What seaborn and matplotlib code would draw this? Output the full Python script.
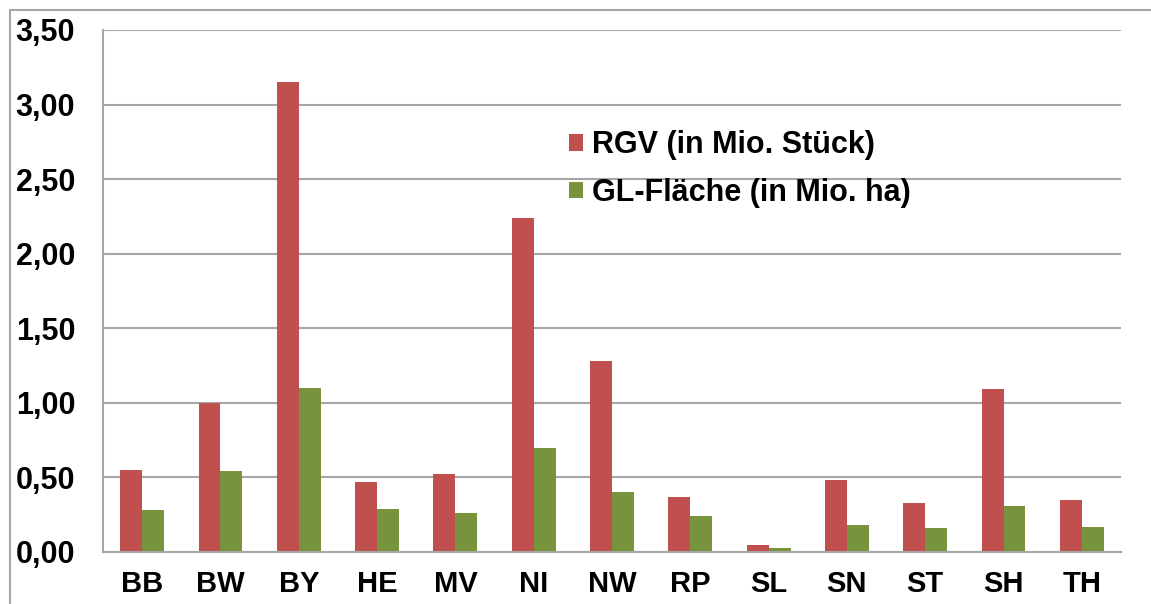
import pandas as pd
import seaborn as sns
import matplotlib.pyplot as plt
from matplotlib.patches import Rectangle
from matplotlib.ticker import FuncFormatter, FixedLocator

laender = ['BB', 'BW', 'BY', 'HE', 'MV', 'NI', 'NW', 'RP', 'SL', 'SN', 'ST', 'SH', 'TH']
rgv = [0.55, 1.00, 3.15, 0.47, 0.52, 2.24, 1.28, 0.37, 0.05, 0.48, 0.33, 1.09, 0.35]
gl_flaeche = [0.28, 0.54, 1.10, 0.29, 0.26, 0.70, 0.40, 0.24, 0.03, 0.18, 0.16, 0.31, 0.17]
series_names = ['RGV (in Mio. Stück)', 'GL-Fläche (in Mio. ha)']
colors = ['#C0504D', '#77933C']

df = pd.DataFrame({
    'Land': laender * 2,
    'Wert': rgv + gl_flaeche,
    'Serie': [series_names[0]] * len(laender) + [series_names[1]] * len(laender),
})

sns.set_style('white')
plt.rcParams['font.family'] = ['Liberation Sans', 'DejaVu Sans']
plt.rcParams['font.weight'] = 'bold'
plt.rcParams['text.color'] = 'black'
plt.rcParams['xtick.color'] = 'black'
plt.rcParams['ytick.color'] = 'black'

fig = plt.figure(figsize=(11.51, 6.04), dpi=100)
ax = fig.add_axes([103 / 1151, 1 - 552 / 604, (1121 - 103) / 1151, (552 - 30) / 604])

sns.barplot(data=df, x='Land', y='Wert', hue='Serie', palette=colors,
            width=0.56, saturation=1, ax=ax, edgecolor='none')

grid_col = '#a6a6a6'
ax.set_ylim(0, 3.5)
ax.set_xlim(-0.5, len(laender) - 0.5)
ax.set_yticks([i * 0.5 for i in range(8)])
ax.yaxis.set_major_formatter(FuncFormatter(lambda v, p: f'{v:.2f}'.replace('.', ',')))
ax.grid(axis='y', color=grid_col, lw=1.5)
ax.set_axisbelow(True)
ax.set_xlabel('')
ax.set_ylabel('')

for s in ['top', 'right']:
    ax.spines[s].set_visible(False)
for s in ['left', 'bottom']:
    ax.spines[s].set_color(grid_col)
    ax.spines[s].set_linewidth(1.5)

ax.tick_params(axis='y', length=0, labelsize=22, pad=20, labelcolor='black')
ax.tick_params(axis='x', which='major', length=0, labelsize=21, pad=13, labelcolor='black')
ax.xaxis.set_minor_locator(FixedLocator([i - 0.5 for i in range(len(laender) + 1)]))
ax.tick_params(axis='x', which='minor', length=8, width=1.5, color=grid_col, direction='out')
for lab in ax.get_xticklabels() + ax.get_yticklabels():
    lab.set_fontweight('bold')

handles, labels = ax.get_legend_handles_labels()
ax.legend(handles, labels, loc='upper left', bbox_to_anchor=(0.458, 0.808),
          frameon=False, handlelength=0.45, handleheight=0.45,
          handletextpad=0.3, labelspacing=0.58, borderpad=0, borderaxespad=0,
          prop={'weight': 'bold', 'size': 22})

fig.patches.append(Rectangle((10 / 1151, -0.1), 1.2, 1.1 - 10 / 604,
                             transform=fig.transFigure, fill=False,
                             edgecolor='#a6a6a6', lw=1.5))

fig.savefig('out.png', dpi=100, facecolor='white')
